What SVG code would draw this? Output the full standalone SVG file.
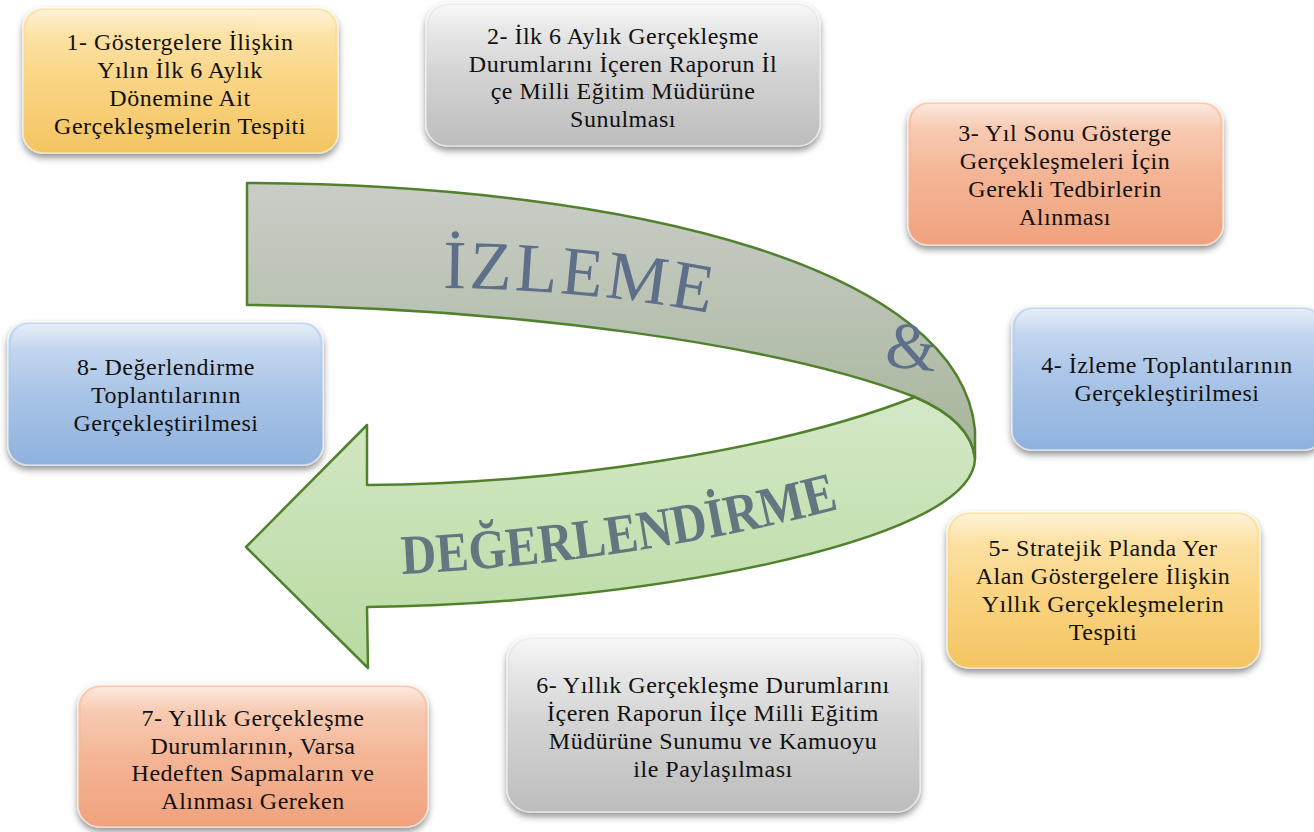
<svg xmlns="http://www.w3.org/2000/svg" width="1314" height="832" viewBox="0 0 1314 832">
<defs>
<filter id="sh" x="-10%" y="-10%" width="120%" height="130%">
<feDropShadow dx="0" dy="4" stdDeviation="3.5" flood-color="#000" flood-opacity="0.45"/>
</filter>
<linearGradient id="gY" x1="0" y1="0" x2="0" y2="1">
<stop offset="0" stop-color="#FDE3A6"/><stop offset="0.5" stop-color="#FAD583"/><stop offset="1" stop-color="#F4C462"/>
</linearGradient>
<linearGradient id="gG" x1="0" y1="0" x2="0" y2="1">
<stop offset="0" stop-color="#EEEEEE"/><stop offset="0.5" stop-color="#D3D3D3"/><stop offset="1" stop-color="#BDBDBD"/>
</linearGradient>
<linearGradient id="gS" x1="0" y1="0" x2="0" y2="1">
<stop offset="0" stop-color="#F8CBB2"/><stop offset="0.5" stop-color="#F4B596"/><stop offset="1" stop-color="#F0A27D"/>
</linearGradient>
<linearGradient id="gB" x1="0" y1="0" x2="0" y2="1">
<stop offset="0" stop-color="#C5D8F0"/><stop offset="0.5" stop-color="#A9C4E6"/><stop offset="1" stop-color="#8FB2DE"/>
</linearGradient>
<linearGradient id="gl" x1="0" y1="0" x2="0" y2="1">
<stop offset="0" stop-color="#fff" stop-opacity="0.55"/><stop offset="0.35" stop-color="#fff" stop-opacity="0.12"/><stop offset="1" stop-color="#fff" stop-opacity="0"/>
</linearGradient>
<linearGradient id="band" gradientUnits="userSpaceOnUse" x1="0" y1="183" x2="0" y2="460">
<stop offset="0" stop-color="#CACDC7"/><stop offset="1" stop-color="#A5B59A"/>
</linearGradient>
<linearGradient id="arr" gradientUnits="userSpaceOnUse" x1="0" y1="397" x2="0" y2="668">
<stop offset="0" stop-color="#D4E8C6"/><stop offset="1" stop-color="#B9DAA2"/>
</linearGradient>
<path id="p1" d="M 443,288 Q 590,289 730,317"/>
<path id="p2" d="M 402,574 Q 640,562 850,506"/>
</defs>
<style>
.box{filter:url(#sh);stroke:#ffffff;stroke-opacity:0.5;stroke-width:1.5}
.gloss{fill:url(#gl)}
.t{font-family:"Liberation Serif","Times New Roman",serif;font-size:24px;letter-spacing:0.5px;fill:#111;text-anchor:middle}
.rib{stroke:#52812D;stroke-width:2.5;stroke-linejoin:round}
.big{font-family:"Liberation Serif","Times New Roman",serif}
</style>
<rect width="1314" height="832" fill="#fff"/>

<g id="ribbon">
<path class="rib" fill="url(#arr)" d="M 915,397 C 780,450 560,484 367,485 L 367,425 L 246,547 L 368,668 L 367,607 C 620,605 975,545 975,458 C 972,432 950,412 915,397 Z"/>
<path class="rib" fill="url(#band)" d="M 247,183 C 640,185 960,270 975,430 L 975,458 C 972,432 950,412 915,397 C 780,345 520,308 247,305 Z"/>
<text class="big" font-size="69" letter-spacing="3" fill="#5E7089"><textPath href="#p1">İZLEME</textPath></text>
<text class="big" font-size="66" fill="#5E7089" transform="translate(884,366) rotate(6)">&amp;</text>
<text class="big" font-size="56" font-weight="bold" fill="#62777F"><textPath href="#p2" textLength="443" lengthAdjust="spacingAndGlyphs">DEĞERLENDİRME</textPath></text>
</g>

<g id="node1">
<rect class="box" x="23" y="8" width="315" height="145" rx="20" fill="url(#gY)"/>
<rect class="gloss" x="26" y="10" width="309" height="70" rx="18"/>
<text class="t" x="180"><tspan x="180" y="50">1- Göstergelere İlişkin</tspan><tspan x="180" y="78">Yılın İlk 6 Aylık</tspan><tspan x="180" y="106">Dönemine Ait</tspan><tspan x="180" y="134">Gerçekleşmelerin Tespiti</tspan></text>
</g>

<g id="node2">
<rect class="box" x="426" y="3" width="394" height="143" rx="22" fill="url(#gG)"/>
<rect class="gloss" x="429" y="5" width="388" height="70" rx="20"/>
<text class="t"><tspan x="623" y="44">2- İlk 6 Aylık Gerçekleşme</tspan><tspan x="623" y="71.5">Durumlarını İçeren Raporun İl</tspan><tspan x="623" y="99">çe Milli Eğitim Müdürüne</tspan><tspan x="623" y="126.5">Sunulması</tspan></text>
</g>

<g id="node3">
<rect class="box" x="908" y="102" width="315" height="143" rx="20" fill="url(#gS)"/>
<rect class="gloss" x="911" y="104" width="309" height="70" rx="18"/>
<text class="t"><tspan x="1065" y="141">3- Yıl Sonu Gösterge</tspan><tspan x="1065" y="169">Gerçekleşmeleri İçin</tspan><tspan x="1065" y="197">Gerekli Tedbirlerin</tspan><tspan x="1065" y="225">Alınması</tspan></text>
</g>

<g id="node4">
<rect class="box" x="1012" y="307" width="312" height="143" rx="20" fill="url(#gB)"/>
<rect class="gloss" x="1015" y="309" width="306" height="70" rx="18"/>
<text class="t"><tspan x="1167" y="373">4- İzleme Toplantılarının</tspan><tspan x="1167" y="401">Gerçekleştirilmesi</tspan></text>
</g>

<g id="node5">
<rect class="box" x="947" y="512" width="313" height="156" rx="22" fill="url(#gY)"/>
<rect class="gloss" x="950" y="514" width="307" height="76" rx="20"/>
<text class="t"><tspan x="1103" y="556">5- Stratejik Planda Yer</tspan><tspan x="1103" y="584">Alan Göstergelere İlişkin</tspan><tspan x="1103" y="612">Yıllık Gerçekleşmelerin</tspan><tspan x="1103" y="640">Tespiti</tspan></text>
</g>

<g id="node6">
<rect class="box" x="507" y="637" width="413" height="175" rx="24" fill="url(#gG)"/>
<rect class="gloss" x="510" y="639" width="407" height="85" rx="22"/>
<text class="t"><tspan x="713" y="693">6- Yıllık Gerçekleşme Durumlarını</tspan><tspan x="713" y="721">İçeren Raporun İlçe Milli Eğitim</tspan><tspan x="713" y="749">Müdürüne Sunumu ve Kamuoyu</tspan><tspan x="713" y="777">ile Paylaşılması</tspan></text>
</g>

<g id="node7">
<rect class="box" x="78" y="685" width="350" height="142" rx="22" fill="url(#gS)"/>
<rect class="gloss" x="81" y="687" width="344" height="70" rx="20"/>
<text class="t"><tspan x="253" y="726">7- Yıllık Gerçekleşme</tspan><tspan x="253" y="753.5">Durumlarının, Varsa</tspan><tspan x="253" y="781">Hedeften Sapmaların ve</tspan><tspan x="253" y="808.5">Alınması Gereken</tspan></text>
</g>

<g id="node8">
<rect class="box" x="8" y="322" width="315" height="143" rx="20" fill="url(#gB)"/>
<rect class="gloss" x="11" y="324" width="309" height="70" rx="18"/>
<text class="t"><tspan x="166" y="375">8- Değerlendirme</tspan><tspan x="166" y="403">Toplantılarının</tspan><tspan x="166" y="431">Gerçekleştirilmesi</tspan></text>
</g>
</svg>
